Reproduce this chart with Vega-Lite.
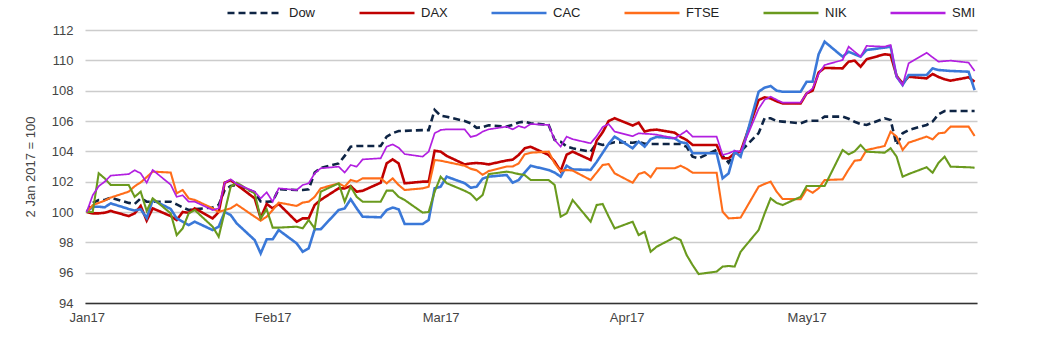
{
  "$schema": "https://vega.github.io/schema/vega-lite/v6.json",
  "width": 892,
  "height": 273,
  "autosize": {"type": "none"},
  "padding": {"left": 85, "top": 30, "right": 72, "bottom": 52},
  "background": "white",
  "config": {"view": {"stroke": null}, "font": "Liberation Sans"},
  "data": {"values": [
    {"date":"2017-01-02","Dow":100,"DAX":100,"CAC":100,"FTSE":100,"NIK":100,"SMI":100},
    {"date":"2017-01-03","Dow":100.6,"DAX":99.91,"CAC":100.35,"FTSE":100.45,"NIK":100,"SMI":101.1},
    {"date":"2017-01-04","Dow":100.79,"DAX":99.91,"CAC":100.35,"FTSE":100.6,"NIK":102.55,"SMI":101.7},
    {"date":"2017-01-05","Dow":100.79,"DAX":99.95,"CAC":100.31,"FTSE":100.75,"NIK":102.22,"SMI":102.0},
    {"date":"2017-01-06","Dow":100.95,"DAX":100.07,"CAC":100.57,"FTSE":100.95,"NIK":101.78,"SMI":102.4},
    {"date":"2017-01-09","Dow":100.6,"DAX":99.73,"CAC":100.2,"FTSE":101.34,"NIK":101.78,"SMI":102.5},
    {"date":"2017-01-10","Dow":100.53,"DAX":99.91,"CAC":100.1,"FTSE":101.7,"NIK":101.0,"SMI":102.75},
    {"date":"2017-01-11","Dow":100.9,"DAX":100.4,"CAC":100.18,"FTSE":101.95,"NIK":101.34,"SMI":102.55},
    {"date":"2017-01-12","Dow":100.68,"DAX":99.43,"CAC":99.6,"FTSE":102.3,"NIK":100.07,"SMI":101.93},
    {"date":"2017-01-13","Dow":100.68,"DAX":100.24,"CAC":100.79,"FTSE":102.66,"NIK":100.9,"SMI":102.77},
    {"date":"2017-01-16","Dow":100.68,"DAX":99.73,"CAC":100.2,"FTSE":102.6,"NIK":99.91,"SMI":101.8},
    {"date":"2017-01-17","Dow":100.5,"DAX":99.47,"CAC":99.58,"FTSE":101.23,"NIK":98.48,"SMI":101.0},
    {"date":"2017-01-18","Dow":100.3,"DAX":100.0,"CAC":99.36,"FTSE":101.45,"NIK":98.92,"SMI":101.1},
    {"date":"2017-01-19","Dow":100.13,"DAX":99.95,"CAC":99.14,"FTSE":100.9,"NIK":99.91,"SMI":100.68},
    {"date":"2017-01-20","Dow":100.18,"DAX":100.24,"CAC":99.36,"FTSE":100.8,"NIK":100.13,"SMI":100.68},
    {"date":"2017-01-23","Dow":100.3,"DAX":99.58,"CAC":98.81,"FTSE":100.24,"NIK":99.03,"SMI":100.13},
    {"date":"2017-01-24","Dow":100.46,"DAX":100.0,"CAC":99.03,"FTSE":100.0,"NIK":98.37,"SMI":100.24},
    {"date":"2017-01-25","Dow":101.45,"DAX":101.93,"CAC":100.0,"FTSE":100.13,"NIK":100.0,"SMI":101.93},
    {"date":"2017-01-26","Dow":101.71,"DAX":102.1,"CAC":99.8,"FTSE":100.24,"NIK":101.67,"SMI":102.15},
    {"date":"2017-01-27","Dow":101.78,"DAX":101.8,"CAC":99.25,"FTSE":100.5,"NIK":101.93,"SMI":101.85},
    {"date":"2017-01-30","Dow":101.3,"DAX":100.9,"CAC":98.15,"FTSE":99.69,"NIK":101.23,"SMI":101.34},
    {"date":"2017-01-31","Dow":100.7,"DAX":99.6,"CAC":97.27,"FTSE":99.43,"NIK":99.58,"SMI":100.9},
    {"date":"2017-02-01","Dow":100.68,"DAX":100.53,"CAC":98.2,"FTSE":99.69,"NIK":100.18,"SMI":101.3},
    {"date":"2017-02-02","Dow":100.7,"DAX":100.24,"CAC":98.2,"FTSE":100.13,"NIK":98.97,"SMI":100.68},
    {"date":"2017-02-03","Dow":101.5,"DAX":100.53,"CAC":98.81,"FTSE":100.62,"NIK":98.97,"SMI":101.56},
    {"date":"2017-02-06","Dow":101.45,"DAX":99.36,"CAC":97.93,"FTSE":100.4,"NIK":99.03,"SMI":101.45},
    {"date":"2017-02-07","Dow":101.45,"DAX":99.58,"CAC":97.38,"FTSE":100.62,"NIK":98.92,"SMI":101.78},
    {"date":"2017-02-08","Dow":101.5,"DAX":99.58,"CAC":97.6,"FTSE":100.68,"NIK":99.47,"SMI":101.89},
    {"date":"2017-02-09","Dow":102.6,"DAX":100.46,"CAC":98.86,"FTSE":101.0,"NIK":98.92,"SMI":102.55},
    {"date":"2017-02-10","Dow":102.9,"DAX":100.8,"CAC":98.86,"FTSE":101.56,"NIK":101.34,"SMI":102.88},
    {"date":"2017-02-13","Dow":103.2,"DAX":101.56,"CAC":100.13,"FTSE":101.89,"NIK":101.89,"SMI":102.99},
    {"date":"2017-02-14","Dow":103.7,"DAX":101.56,"CAC":100.24,"FTSE":101.67,"NIK":100.68,"SMI":102.6},
    {"date":"2017-02-15","Dow":104.31,"DAX":101.71,"CAC":100.84,"FTSE":102.11,"NIK":101.67,"SMI":103.1},
    {"date":"2017-02-16","Dow":104.35,"DAX":101.34,"CAC":100.24,"FTSE":102.0,"NIK":101.0,"SMI":102.99},
    {"date":"2017-02-17","Dow":104.35,"DAX":101.4,"CAC":99.69,"FTSE":102.22,"NIK":100.68,"SMI":103.47},
    {"date":"2017-02-20","Dow":104.35,"DAX":101.93,"CAC":99.65,"FTSE":102.22,"NIK":100.68,"SMI":103.54},
    {"date":"2017-02-21","Dow":104.97,"DAX":103.21,"CAC":100.13,"FTSE":101.89,"NIK":101.41,"SMI":104.31},
    {"date":"2017-02-22","Dow":105.2,"DAX":103.47,"CAC":100.29,"FTSE":102.22,"NIK":101.41,"SMI":104.46},
    {"date":"2017-02-23","Dow":105.34,"DAX":103.2,"CAC":100.18,"FTSE":101.78,"NIK":101.0,"SMI":104.24},
    {"date":"2017-02-24","Dow":105.35,"DAX":101.89,"CAC":99.21,"FTSE":101.45,"NIK":100.79,"SMI":103.82},
    {"date":"2017-02-27","Dow":105.4,"DAX":102.0,"CAC":99.21,"FTSE":101.56,"NIK":99.96,"SMI":103.65},
    {"date":"2017-02-28","Dow":105.4,"DAX":102.0,"CAC":99.47,"FTSE":101.67,"NIK":100.0,"SMI":103.98},
    {"date":"2017-03-01","Dow":106.73,"DAX":104.04,"CAC":101.56,"FTSE":103.43,"NIK":101.34,"SMI":105.19},
    {"date":"2017-03-02","Dow":106.35,"DAX":103.98,"CAC":101.67,"FTSE":103.38,"NIK":102.33,"SMI":105.41},
    {"date":"2017-03-03","Dow":106.28,"DAX":103.7,"CAC":102.33,"FTSE":103.3,"NIK":101.9,"SMI":105.45},
    {"date":"2017-03-06","Dow":106.0,"DAX":103.14,"CAC":101.9,"FTSE":103.05,"NIK":101.4,"SMI":105.45},
    {"date":"2017-03-07","Dow":105.85,"DAX":103.2,"CAC":101.6,"FTSE":102.85,"NIK":101.2,"SMI":104.95},
    {"date":"2017-03-08","Dow":105.55,"DAX":103.23,"CAC":101.67,"FTSE":102.75,"NIK":100.79,"SMI":105.05},
    {"date":"2017-03-09","Dow":105.6,"DAX":103.2,"CAC":102.2,"FTSE":102.45,"NIK":101.12,"SMI":105.3},
    {"date":"2017-03-10","Dow":105.72,"DAX":103.14,"CAC":102.33,"FTSE":102.7,"NIK":102.5,"SMI":105.45},
    {"date":"2017-03-13","Dow":105.63,"DAX":103.4,"CAC":102.44,"FTSE":103.0,"NIK":102.66,"SMI":105.63},
    {"date":"2017-03-14","Dow":105.75,"DAX":103.45,"CAC":101.93,"FTSE":103.0,"NIK":102.6,"SMI":105.45},
    {"date":"2017-03-15","Dow":105.9,"DAX":103.76,"CAC":102.11,"FTSE":103.2,"NIK":102.5,"SMI":105.67},
    {"date":"2017-03-16","Dow":105.96,"DAX":104.2,"CAC":102.6,"FTSE":103.8,"NIK":102.44,"SMI":105.55},
    {"date":"2017-03-17","Dow":105.85,"DAX":104.3,"CAC":103.05,"FTSE":103.91,"NIK":102.11,"SMI":105.8},
    {"date":"2017-03-20","Dow":105.74,"DAX":103.76,"CAC":102.77,"FTSE":103.98,"NIK":102.11,"SMI":105.74},
    {"date":"2017-03-21","Dow":104.75,"DAX":103.32,"CAC":102.6,"FTSE":103.2,"NIK":101.78,"SMI":104.75},
    {"date":"2017-03-22","Dow":104.64,"DAX":102.7,"CAC":102.33,"FTSE":102.7,"NIK":99.69,"SMI":104.31},
    {"date":"2017-03-23","Dow":104.31,"DAX":103.78,"CAC":103.05,"FTSE":102.77,"NIK":99.91,"SMI":104.97},
    {"date":"2017-03-24","Dow":104.2,"DAX":103.98,"CAC":102.81,"FTSE":102.73,"NIK":100.79,"SMI":104.8},
    {"date":"2017-03-27","Dow":103.98,"DAX":103.43,"CAC":102.77,"FTSE":102.11,"NIK":99.36,"SMI":104.53},
    {"date":"2017-03-28","Dow":104.53,"DAX":104.7,"CAC":103.3,"FTSE":102.6,"NIK":100.46,"SMI":105.0},
    {"date":"2017-03-29","Dow":104.42,"DAX":105.25,"CAC":103.9,"FTSE":103.1,"NIK":100.53,"SMI":105.6},
    {"date":"2017-03-30","Dow":104.5,"DAX":106.0,"CAC":104.5,"FTSE":103.16,"NIK":99.7,"SMI":105.8},
    {"date":"2017-03-31","Dow":104.6,"DAX":106.18,"CAC":104.97,"FTSE":102.55,"NIK":98.92,"SMI":105.3},
    {"date":"2017-04-03","Dow":104.57,"DAX":105.7,"CAC":104.2,"FTSE":101.93,"NIK":99.36,"SMI":105.0},
    {"date":"2017-04-04","Dow":104.62,"DAX":105.89,"CAC":104.64,"FTSE":102.5,"NIK":98.48,"SMI":105.19},
    {"date":"2017-04-05","Dow":104.5,"DAX":105.3,"CAC":104.31,"FTSE":102.63,"NIK":98.7,"SMI":105.16},
    {"date":"2017-04-06","Dow":104.48,"DAX":105.4,"CAC":104.8,"FTSE":102.3,"NIK":97.38,"SMI":105.14},
    {"date":"2017-04-07","Dow":104.48,"DAX":105.43,"CAC":104.95,"FTSE":102.88,"NIK":97.71,"SMI":105.1},
    {"date":"2017-04-10","Dow":104.48,"DAX":105.23,"CAC":104.86,"FTSE":102.88,"NIK":98.33,"SMI":104.86},
    {"date":"2017-04-11","Dow":104.48,"DAX":104.95,"CAC":104.6,"FTSE":103.05,"NIK":98.15,"SMI":105.1},
    {"date":"2017-04-12","Dow":104.3,"DAX":104.75,"CAC":104.53,"FTSE":102.85,"NIK":97.16,"SMI":105.36},
    {"date":"2017-04-13","Dow":103.65,"DAX":104.42,"CAC":103.87,"FTSE":102.59,"NIK":96.5,"SMI":104.97},
    {"date":"2017-04-14","Dow":103.54,"DAX":104.42,"CAC":103.87,"FTSE":102.59,"NIK":95.91,"SMI":104.97},
    {"date":"2017-04-17","Dow":104.09,"DAX":104.42,"CAC":103.87,"FTSE":102.59,"NIK":96.07,"SMI":104.97},
    {"date":"2017-04-18","Dow":103.7,"DAX":103.54,"CAC":102.22,"FTSE":100.02,"NIK":96.4,"SMI":103.76},
    {"date":"2017-04-19","Dow":103.25,"DAX":103.54,"CAC":102.55,"FTSE":99.58,"NIK":96.44,"SMI":103.87},
    {"date":"2017-04-20","Dow":103.9,"DAX":103.87,"CAC":103.98,"FTSE":99.6,"NIK":96.4,"SMI":104.04},
    {"date":"2017-04-21","Dow":104.0,"DAX":103.98,"CAC":103.65,"FTSE":99.63,"NIK":97.38,"SMI":103.98},
    {"date":"2017-04-24","Dow":105.2,"DAX":107.38,"CAC":107.93,"FTSE":101.67,"NIK":98.81,"SMI":106.8},
    {"date":"2017-04-25","Dow":106.18,"DAX":107.56,"CAC":108.2,"FTSE":101.85,"NIK":99.9,"SMI":107.4},
    {"date":"2017-04-26","Dow":106.18,"DAX":107.49,"CAC":108.31,"FTSE":102.0,"NIK":100.9,"SMI":107.6},
    {"date":"2017-04-27","Dow":106.0,"DAX":107.3,"CAC":108.0,"FTSE":101.34,"NIK":100.6,"SMI":107.4},
    {"date":"2017-04-28","Dow":105.96,"DAX":107.16,"CAC":107.93,"FTSE":100.86,"NIK":100.46,"SMI":107.21},
    {"date":"2017-05-01","Dow":105.85,"DAX":107.16,"CAC":107.93,"FTSE":100.84,"NIK":101.0,"SMI":107.21},
    {"date":"2017-05-02","Dow":106.0,"DAX":107.82,"CAC":108.59,"FTSE":101.49,"NIK":101.71,"SMI":107.82},
    {"date":"2017-05-03","Dow":106.02,"DAX":108.0,"CAC":108.59,"FTSE":101.27,"NIK":101.71,"SMI":108.15},
    {"date":"2017-05-04","Dow":106.02,"DAX":109.2,"CAC":110.4,"FTSE":101.56,"NIK":101.71,"SMI":109.1},
    {"date":"2017-05-05","Dow":106.29,"DAX":109.5,"CAC":111.23,"FTSE":102.11,"NIK":101.71,"SMI":109.69},
    {"date":"2017-05-08","Dow":106.29,"DAX":109.47,"CAC":110.24,"FTSE":102.15,"NIK":104.09,"SMI":110.02},
    {"date":"2017-05-09","Dow":106.15,"DAX":109.91,"CAC":110.57,"FTSE":102.8,"NIK":103.8,"SMI":110.9},
    {"date":"2017-05-10","Dow":105.95,"DAX":109.98,"CAC":110.4,"FTSE":103.38,"NIK":104.0,"SMI":110.57},
    {"date":"2017-05-11","Dow":105.8,"DAX":109.58,"CAC":110.24,"FTSE":103.43,"NIK":104.42,"SMI":110.24},
    {"date":"2017-05-12","Dow":105.74,"DAX":110.07,"CAC":110.68,"FTSE":104.09,"NIK":103.98,"SMI":110.95},
    {"date":"2017-05-15","Dow":106.18,"DAX":110.4,"CAC":110.84,"FTSE":104.35,"NIK":103.91,"SMI":110.9},
    {"date":"2017-05-16","Dow":106.07,"DAX":110.35,"CAC":110.9,"FTSE":105.3,"NIK":104.2,"SMI":111.01},
    {"date":"2017-05-17","Dow":104.42,"DAX":108.97,"CAC":108.92,"FTSE":104.97,"NIK":103.65,"SMI":108.92},
    {"date":"2017-05-18","Dow":105.19,"DAX":108.48,"CAC":108.37,"FTSE":104.09,"NIK":102.33,"SMI":108.37},
    {"date":"2017-05-19","Dow":105.4,"DAX":108.92,"CAC":109.03,"FTSE":104.57,"NIK":102.5,"SMI":109.8},
    {"date":"2017-05-22","Dow":105.74,"DAX":108.81,"CAC":109.03,"FTSE":104.97,"NIK":102.95,"SMI":110.5},
    {"date":"2017-05-23","Dow":105.96,"DAX":109.1,"CAC":109.47,"FTSE":104.79,"NIK":102.59,"SMI":110.2},
    {"date":"2017-05-24","Dow":106.45,"DAX":108.9,"CAC":109.36,"FTSE":105.19,"NIK":103.25,"SMI":109.91},
    {"date":"2017-05-25","Dow":106.66,"DAX":108.75,"CAC":109.33,"FTSE":105.23,"NIK":103.65,"SMI":109.95},
    {"date":"2017-05-26","Dow":106.66,"DAX":108.66,"CAC":109.3,"FTSE":105.63,"NIK":102.99,"SMI":109.98},
    {"date":"2017-05-29","Dow":106.66,"DAX":108.88,"CAC":109.25,"FTSE":105.63,"NIK":102.95,"SMI":109.85},
    {"date":"2017-05-30","Dow":106.66,"DAX":108.59,"CAC":108.04,"FTSE":105.01,"NIK":102.92,"SMI":109.3}
  ]},
  "transform": [{"fold": ["Dow","DAX","CAC","FTSE","NIK","SMI"], "as": ["index","value"]}],
  "encoding": {
    "x": {
      "field": "date", "type": "temporal",
      "scale": {"type": "utc", "domain": [1483290720000, 1496136960000], "nice": false},
      "axis": {
        "values": [1483315200000, 1485993600000, 1488412800000, 1491091200000, 1493683200000],
        "labelExpr": "utcFormat(datum.value, '%b%y')", "title": null, "grid": false, "ticks": false,
        "domain": true, "domainColor": "#333333", "domainWidth": 1.5,
        "labelFontSize": 13, "labelColor": "#444444", "labelPadding": 8, "labelFlush": false
      }
    },
    "y": {
      "field": "value", "type": "quantitative",
      "scale": {"domain": [94, 112], "nice": false, "zero": false},
      "axis": {
        "values": [94, 96, 98, 100, 102, 104, 106, 108, 110, 112],
        "title": "2 Jan 2017 = 100", "titleFontSize": 13, "titleFontWeight": "normal", "titleColor": "#444444", "titlePadding": 14,
        "labelFontSize": 13, "labelColor": "#444444", "labelPadding": 12,
        "ticks": false, "domain": false, "grid": true, "gridColor": "#cccccc", "gridWidth": 1.5
      }
    },
    "color": {
      "field": "index", "type": "nominal",
      "scale": {"domain": ["Dow","DAX","CAC","FTSE","NIK","SMI"], "range": ["#0e2444","#c00000","#3a78d8","#ff6d1a","#6a9a1e","#b21fe0"]},
      "legend": {"orient": "none", "legendX": 141, "legendY": -46, "direction": "horizontal", "title": null, "symbolType": "stroke", "symbolSize": 3025, "symbolStrokeWidth": 2.6, "labelFontSize": 13, "labelColor": "#222222", "columnPadding": 38, "labelOffset": 5, "padding": 0}
    },
    "strokeDash": {
      "field": "index", "type": "nominal",
      "scale": {"domain": ["Dow","DAX","CAC","FTSE","NIK","SMI"], "range": [[7,4],[1,0],[1,0],[1,0],[1,0],[1,0]]},
      "legend": {"orient": "none", "legendX": 141, "legendY": -46, "direction": "horizontal", "title": null, "symbolType": "stroke", "symbolSize": 3025, "symbolStrokeWidth": 2.6, "labelFontSize": 13, "labelColor": "#222222", "columnPadding": 38, "labelOffset": 5, "padding": 0}
    }
  },
  "layer": [
    {"transform": [{"filter": {"field": "index", "oneOf": ["Dow","DAX","CAC"]}}], "mark": {"type": "line", "strokeWidth": 2.6}},
    {"transform": [{"filter": {"field": "index", "oneOf": ["FTSE","NIK"]}}], "mark": {"type": "line", "strokeWidth": 2.1}},
    {"transform": [{"filter": {"field": "index", "oneOf": ["SMI"]}}], "mark": {"type": "line", "strokeWidth": 1.7}}
  ]
}
